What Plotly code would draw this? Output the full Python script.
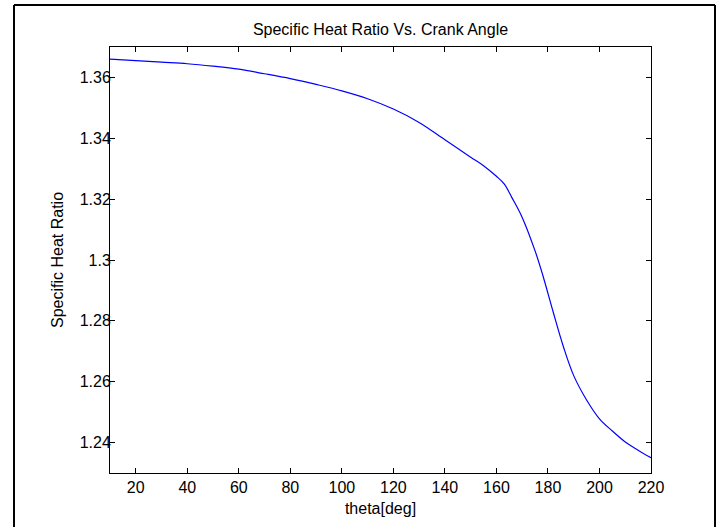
import plotly.graph_objects as go

theta = [10, 20, 30, 40, 50, 60, 70, 80, 90, 100, 110, 120, 130, 140, 150, 155, 160, 163, 166,
         170, 175, 178, 182, 186, 190, 195, 200, 205, 210, 215, 220]
gamma = [1.3660, 1.3655, 1.3650, 1.3645, 1.3637, 1.3627, 1.3612, 1.3596, 1.3577, 1.3556, 1.3530,
         1.3496, 1.3452, 1.3395, 1.3338, 1.3310, 1.3275, 1.3250, 1.3205, 1.3140, 1.3030, 1.2950,
         1.2830, 1.2715, 1.2620, 1.2540, 1.2478, 1.2438, 1.2402, 1.2375, 1.2350]

x_ticks = [20, 40, 60, 80, 100, 120, 140, 160, 180, 200, 220]
y_ticks = [1.24, 1.26, 1.28, 1.30, 1.32, 1.34, 1.36]
y_tick_text = ["1.24", "1.26", "1.28", "1.3", "1.32", "1.34", "1.36"]

FONT = "Liberation Sans, Arial, sans-serif"

fig = go.Figure()
fig.add_trace(go.Scatter(x=theta, y=gamma, mode="lines",
                         line=dict(color="rgb(0,0,255)", width=1.2),
                         line_shape="spline", showlegend=False))

W, H = 718, 527
ml, mr, mt, mb = 110, 67, 47, 54
pw, ph = W - ml - mr, H - mt - mb

def px(x):
    return (x - ml) / pw

def py(y):
    return (H - mb - y) / ph

frame = dict(type="line", xref="paper", yref="paper", line=dict(color="black", width=2))
fig.add_shape(x0=px(14), x1=px(14), y0=py(540), y1=py(5), **frame)
fig.add_shape(x0=px(14), x1=px(715), y0=py(5), y1=py(5), **frame)
fig.add_shape(x0=px(715), x1=px(715), y0=py(5), y1=py(540), **frame)

axis_common = dict(showline=True, linecolor="black", linewidth=1, mirror="ticks",
                   ticks="inside", ticklen=5, tickcolor="black", tickwidth=1,
                   showgrid=False, zeroline=False,
                   tickfont=dict(family=FONT, size=16, color="black"))

fig.update_xaxes(range=[10, 220], tickvals=x_ticks,
                 title=dict(text="theta[deg]", font=dict(family=FONT, size=16, color="black"), standoff=7),
                 **axis_common)
fig.update_yaxes(range=[1.23, 1.37], tickvals=y_ticks, ticktext=y_tick_text,
                 ticklabelstandoff=-5,
                 title=dict(text="Specific Heat Ratio", font=dict(family=FONT, size=16, color="black"), standoff=12),
                 **axis_common)

fig.update_layout(
    width=W, height=H,
    margin=dict(l=ml, r=mr, t=mt, b=mb, pad=0),
    paper_bgcolor="white", plot_bgcolor="white",
    title=dict(text="Specific Heat Ratio Vs. Crank Angle", x=0.5, xref="paper",
               y=1 - 29 / H, yref="container", yanchor="middle", xanchor="center",
               font=dict(family=FONT, size=16, color="black")),
)

fig.write_html("out.html")
